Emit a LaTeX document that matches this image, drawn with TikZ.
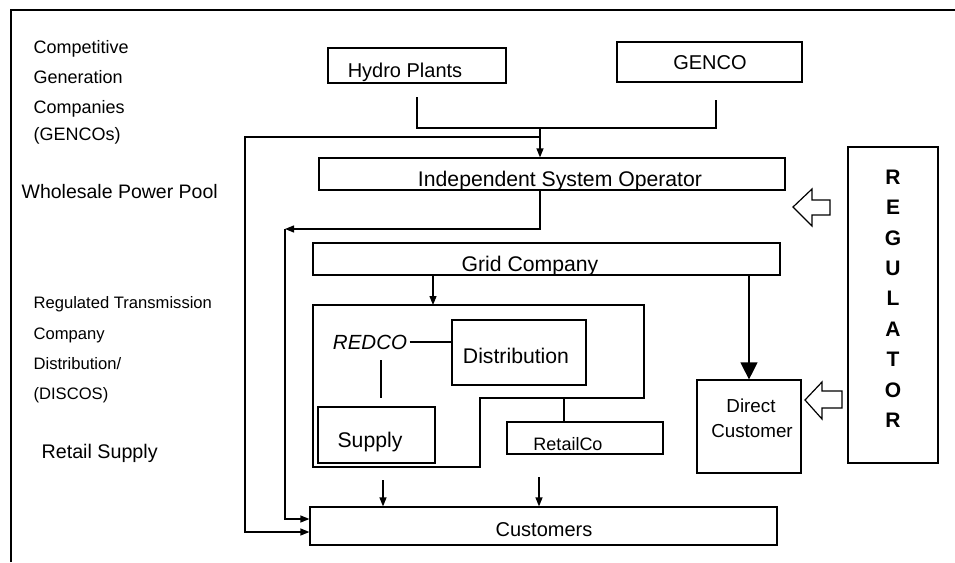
\documentclass[tikz,border=0pt]{standalone}
\usepackage{fontspec}
\setmainfont{Liberation Sans}
\usetikzlibrary{arrows.meta,calc}
\begin{document}
\begin{tikzpicture}[x=1pt,y=-1pt,
  line width=1.2pt,
  box/.style={draw,line width=1.2pt,inner sep=0pt},
  txt/.style={font=\fontsize{20}{24}\selectfont,anchor=base,inner sep=0pt},
  txtl/.style={font=\fontsize{21.2}{24}\selectfont,anchor=base,inner sep=0pt},
  lbl/.style={anchor=base west,inner sep=0pt},
  arr/.style={-{Triangle[width=7pt,length=9pt]}},
  bigarr/.style={-{Triangle[width=17pt,length=17pt]}}]
\useasboundingbox (0,0) rectangle (955,562);
% outer frame
\draw (11,562) -- (11,10) -- (955,10);
% left labels
\node[lbl,font=\fontsize{18}{20}\selectfont] (l1) at (33,53) {Competitive};
\node[lbl,font=\fontsize{18}{20}\selectfont] (l2) at (33,83) {Generation};
\node[lbl,font=\fontsize{18}{20}\selectfont] (l3) at (33,113) {Companies};
\node[lbl,font=\fontsize{18}{20}\selectfont] (l4) at (33,140) {(GENCOs)};
\node[lbl,font=\fontsize{19.5}{22}\selectfont] (l5) at (21,198) {Wholesale Power Pool};
\node[lbl,font=\fontsize{16.6}{19}\selectfont] (l6) at (33,308) {Regulated Transmission};
\node[lbl,font=\fontsize{16.6}{19}\selectfont] (l7) at (33,339) {Company};
\node[lbl,font=\fontsize{16.6}{19}\selectfont] (l8) at (33,369) {Distribution/};
\node[lbl,font=\fontsize{16.6}{19}\selectfont] (l9) at (33,399) {(DISCOS)};
\node[lbl,font=\fontsize{19.7}{22}\selectfont] (l10) at (41,458) {Retail Supply};
% boxes
\node[box,minimum width=178pt,minimum height=35pt] (hydro) at (417,65.5) {};
\node[box,minimum width=185pt,minimum height=40pt] (genco) at (709.5,62) {};
\node[box,minimum width=466pt,minimum height=32pt] (iso) at (552,174) {};
\node[box,minimum width=467pt,minimum height=32pt] (grid) at (546.5,259) {};
\node[box,minimum width=134pt,minimum height=65pt] (dist) at (519,352.5) {};
\node[box,minimum width=117pt,minimum height=56pt] (supply) at (376.5,435) {};
\node[box,minimum width=156pt,minimum height=32pt] (retail) at (585,438) {};
\node[box,minimum width=467pt,minimum height=38pt] (cust) at (543.5,526) {};
\node[box,minimum width=104pt,minimum height=93pt] (dc) at (749,426.5) {};
\node[box,minimum width=90pt,minimum height=316pt] (reg) at (893,305) {};
% texts
\node[txt] (thydro) at (405,77) {Hydro Plants};
\node[txt] (tgenco) at (710,69.5) {GENCO};
\node[txtl] (tiso) at (560,186.5) {Independent System Operator};
\node[txtl] (tgrid) at (530,271) {Grid Company};
\node[txtl] (tdist) at (516,363) {Distribution};
\node[txtl] (tsupply) at (370,447) {Supply};
\node[txt,font=\fontsize{18}{20}\selectfont] (tretail) at (568,450) {RetailCo};
\node[txt] (tcust) at (544,536) {Customers};
\node[txt,font=\fontsize{18.8}{20}\selectfont] (tdc1) at (751,412) {Direct};
\node[txt,font=\fontsize{18.8}{20}\selectfont] (tdc2) at (752,437) {Customer};
\node[txt,font=\fontsize{20.5}{24}\selectfont\itshape] (redco) at (370,349) {REDCO};
\node[inner sep=0pt,align=center,font=\fontsize{21}{30.4}\selectfont\bfseries] (treg) at (893,298.6)
  {R\\E\\G\\U\\L\\A\\T\\O\\R};
% REDCO outer outline
\draw (313,305) -- (644,305) -- (644,398) -- (480,398) -- (480,467) -- (313,467) -- cycle;
% coordinates
\coordinate (h1) at (417,97);
\coordinate (g1) at (716,100);
\coordinate (j) at (540,128);
\coordinate (fb) at (540,137);
\coordinate (c1) at (285,229);
\coordinate (y519) at (0,519);
\coordinate (y532) at (0,532);
\coordinate (rtop) at (433,305);
\coordinate (rd1) at (381,360);
\coordinate (rd2) at (381,398);
\coordinate (rc1) at (564,398);
\coordinate (a1) at (383,480);
\coordinate (a2) at (539,477);
% connectors
\draw (h1) |- (g1 |- j) -- (g1);
\draw[arr] (j) -- (iso.north -| j);
\draw[arr] (fb) -- (245,137) |- (cust.west |- y532);
\draw[arr] (iso.south -| j) |- (c1);
\draw[arr] (c1) |- (cust.west |- y519);
\draw[arr] (grid.south -| rtop) -- (rtop);
\draw[bigarr] (grid.south -| dc.north) -- (dc.north);
\draw ([xshift=2pt]redco.east) -- (redco.east -| dist.west);
\draw (rd1) -- (rd2);
\draw (rc1) -- (retail.north -| rc1);
\draw[arr] (a1) -- (cust.north -| a1);
\draw[arr] (a2) -- (cust.north -| a2);
% hollow block arrows from regulator
\draw (793,207) -- (812,189) -- (812,200) -- (830,200) -- (830,215) -- (812,215) -- (812,226) -- cycle;
\draw (805,400) -- (822,382) -- (822,391) -- (842,391) -- (842,408) -- (822,408) -- (822,419) -- cycle;
\end{tikzpicture}
\end{document}
